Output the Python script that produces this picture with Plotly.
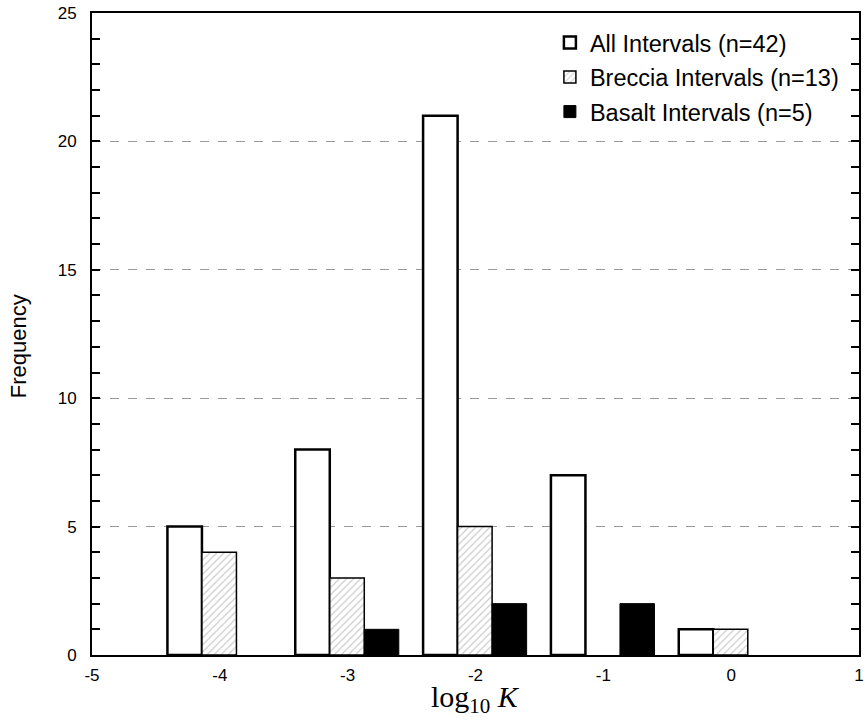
import plotly.graph_objects as go

bins = [-4, -3, -2, -1, 0]
all_intervals = [5, 8, 21, 7, 1]
breccia = [4, 3, 5, 0, 1]
basalt = [0, 1, 2, 2, 0]

x_ticks = [-5, -4, -3, -2, -1, 0, 1]
x_tick_labels = ["-5", "-4", "-3", "-2", "-1", "0", "1"]


def nz(vals):
    return [v if v else None for v in vals]


fig = go.Figure()
fig.add_trace(go.Bar(
    x=bins, y=nz(all_intervals), name="All Intervals (n=42)", legendgroup="a",
    offset=-0.41, width=0.27,
    marker=dict(color="white", line=dict(color="black", width=2.5)),
))
fig.add_trace(go.Bar(
    x=bins, y=nz(breccia), name="Breccia Intervals (n=13)", legendgroup="b",
    offset=-0.14, width=0.27,
    marker=dict(color="white", line=dict(color="black", width=1.5),
                pattern=dict(shape="/", fgcolor="#9a9a9a", bgcolor="white", size=5, solidity=0.25)),
))
fig.add_trace(go.Bar(
    x=bins, y=nz(basalt), name="Basalt Intervals (n=5)", legendgroup="c",
    offset=0.13, width=0.27,
    marker=dict(color="black", line=dict(color="black", width=1)),
))

fig.add_annotation(text="Frequency", textangle=-90, showarrow=False,
                   xref="paper", yref="paper", x=0, y=0.481,
                   xanchor="center", yanchor="middle", xshift=-74,
                   font=dict(size=22))
fig.add_annotation(text="log<sub>10</sub> <i>K</i>", showarrow=False,
                   xref="paper", yref="paper", x=0.5, y=0,
                   xanchor="center", yanchor="middle", yshift=-44,
                   font=dict(family="Liberation Serif, Times New Roman", size=30))

fig.update_layout(
    width=865, height=723,
    margin=dict(l=92, r=1, t=13, b=68),
    plot_bgcolor="white", paper_bgcolor="white",
    barmode="overlay",
    font=dict(family="Liberation Sans, Arial", size=17, color="black"),
    legend=dict(x=0.597, y=0.988, xanchor="left", yanchor="top",
                font=dict(size=23.5), bgcolor="rgba(255,255,255,0)",
                tracegroupgap=1, itemwidth=30),
    xaxis=dict(range=[-5, 1], tickvals=x_ticks, ticktext=x_tick_labels,
               showgrid=False, zeroline=False,
               showline=True, linecolor="black", linewidth=2, mirror=True,
               ticks="", tickfont=dict(size=17), ticklabeloverflow="allow",
               ticklabelstandoff=4),
    yaxis=dict(range=[0, 25], tick0=0, dtick=5, showgrid=True, gridcolor="#999",
               griddash="dash", gridwidth=1, zeroline=False,
               showline=True, linecolor="black", linewidth=2, mirror="ticks",
               ticks="inside", ticklen=8, tickwidth=2, tickcolor="black",
               ticklabelstandoff=10,
               minor=dict(dtick=1, ticks="inside", ticklen=8, tickwidth=2, tickcolor="black", showgrid=False),
               tickfont=dict(size=17)),
)

fig.write_html("out.html")
